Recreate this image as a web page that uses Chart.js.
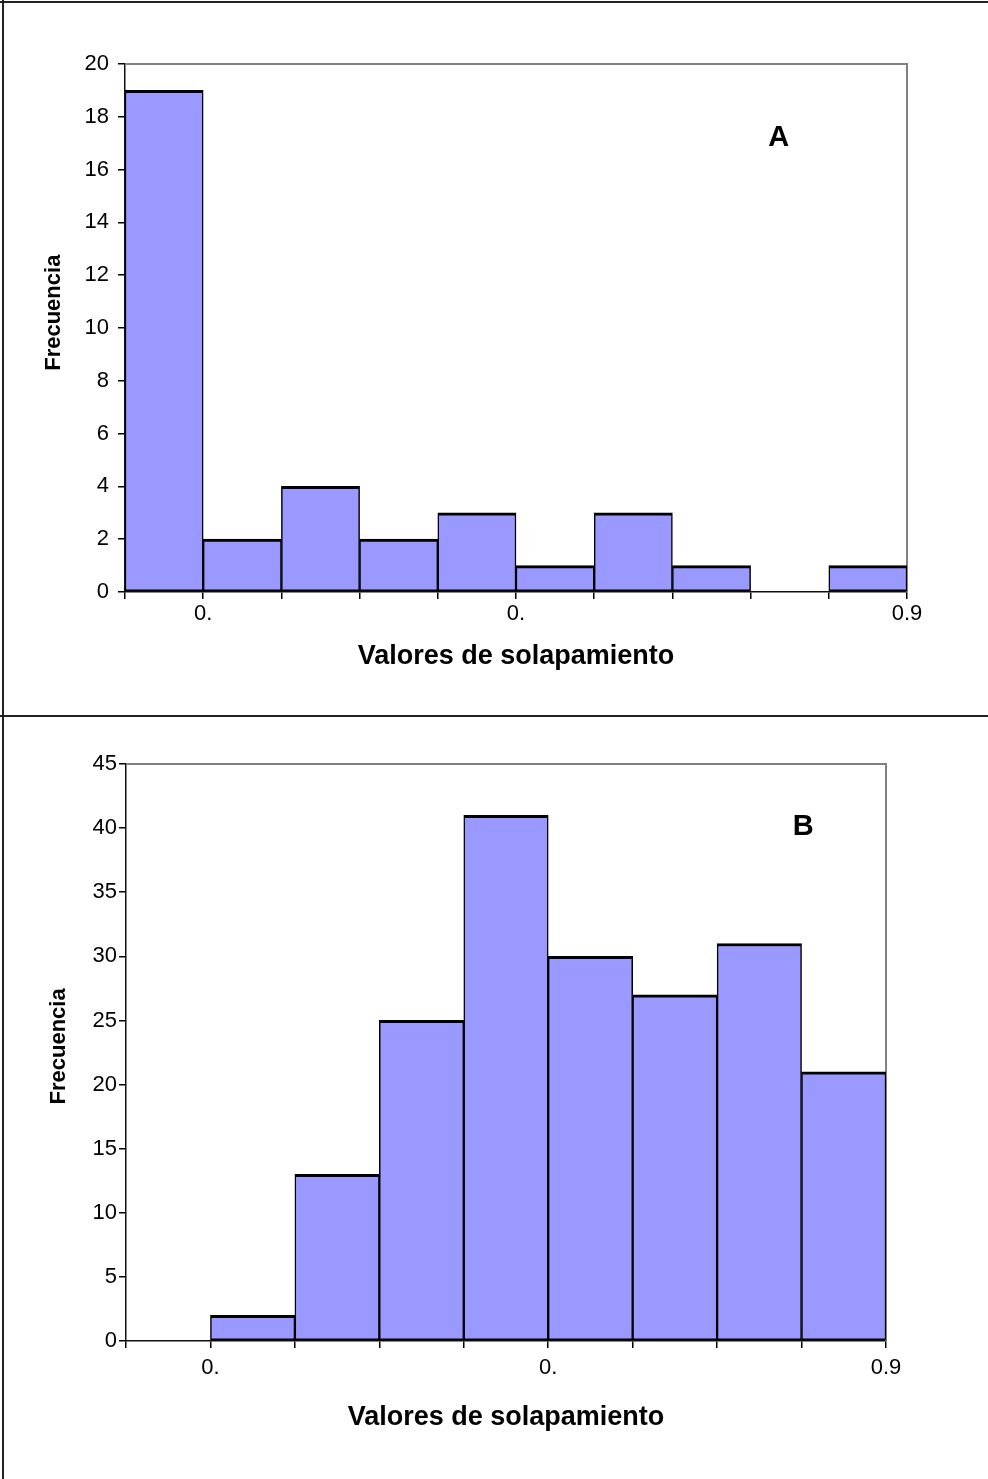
<!DOCTYPE html>
<html>
<head>
<meta charset="utf-8">
<script src="https://cdn.jsdelivr.net/npm/chart.js@4.4.1/dist/chart.umd.min.js"></script>
<style>
    body { margin: 0; background: #fff; }
    #page { position: relative; width: 988px; height: 1479px; overflow: hidden; }
    canvas { position: absolute; left: 0; }
    .rule { position: absolute; background: #222; }
</style>
</head>
<body>
<div id="page">
    <canvas id="chartA" width="988" height="716" style="top:0"></canvas>
    <canvas id="chartB" width="988" height="763" style="top:716px"></canvas>
    <div class="rule" style="left:0;top:1px;width:988px;height:2px"></div>
    <div class="rule" style="left:2px;top:0;width:2px;height:1479px"></div>
    <div class="rule" style="left:0;top:715px;width:988px;height:2px"></div>
</div>
<script>
// ==================== DATA ====================

// Panel A: 10 bins
const freqA = [19, 2, 4, 2, 3, 1, 3, 1, 0, 1];
const edgeLabelsA = ['', '0.', '', '', '', '0.', '', '', '', '', '0.9'];
const yTicksA = { max: 20, step: 2 };

// Panel B: 9 bins
const freqB = [0, 2, 13, 25, 41, 30, 27, 31, 21];
const edgeLabelsB = ['', '0.', '', '', '', '0.', '', '', '', '0.9'];
const yTicksB = { max: 45, step: 5 };

const xTitle = 'Valores de solapamiento';
const yTitle = 'Frecuencia';

// ==================== STYLE ====================

const FONT = "'Liberation Sans', Arial, sans-serif";
const BAR_FILL = '#9999ff';
const PLOT_EDGE = '#808080';

Chart.defaults.font.family = FONT;
Chart.defaults.color = '#000';

// Gray top/right edge of the plot area, drawn under the bars
const plotFrame = {
    id: 'plotFrame',
    beforeDatasetsDraw(chart) {
        const { ctx, chartArea: a } = chart;
        ctx.save();
        ctx.strokeStyle = PLOT_EDGE;
        ctx.lineWidth = 2;
        ctx.beginPath();
        ctx.moveTo(a.left, a.top);
        ctx.lineTo(a.right, a.top);
        ctx.lineTo(a.right, a.bottom);
        ctx.stroke();
        ctx.restore();
    }
};

// Panel letter, positioned in data units
const panelLetter = {
    id: 'panelLetter',
    afterDatasetsDraw(chart, args, opts) {
        const { ctx, scales } = chart;
        ctx.save();
        ctx.font = 'bold 29px ' + FONT;
        ctx.fillStyle = '#000';
        ctx.textAlign = 'center';
        ctx.textBaseline = 'middle';
        ctx.fillText(opts.text, scales.x.getPixelForValue(opts.at[0]), scales.y.getPixelForValue(opts.at[1]));
        ctx.restore();
    }
};

// ==================== CHARTS ====================

function makeHistogram(canvasId, cfg) {
    const tickLine = { color: '#000', lineWidth: 1.5, drawOnChartArea: false, drawTicks: true, tickLength: 7 };
    const axisLine = { display: true, color: '#111', width: 1.5 };

    // the y title sits a bit above the middle of the axis in the original
    const yTitleText = '\u00a0'.repeat(cfg.yTitleLift) + yTitle;

    return new Chart(document.getElementById(canvasId), {
        type: 'bar',
        data: {
            datasets: [{
                data: cfg.freq.map((v, i) => ({ x: i + 0.5, y: v })),
                backgroundColor: BAR_FILL,
                borderColor: '#000',
                borderWidth: { top: 3, left: 1.5, right: 1.5, bottom: 2 },
                borderSkipped: false,
                barPercentage: 1,
                categoryPercentage: 1
            }]
        },
        options: {
            responsive: false,
            animation: false,
            devicePixelRatio: 1,
            layout: { padding: cfg.padding },
            plugins: {
                legend: { display: false },
                tooltip: { enabled: false },
                panelLetter: { text: cfg.letter, at: cfg.letterAt }
            },
            scales: {
                x: {
                    type: 'linear',
                    min: 0,
                    max: cfg.freq.length,
                    offset: false,
                    grid: { ...tickLine, offset: false },
                    border: axisLine,
                    ticks: {
                        stepSize: 1,
                        autoSkip: false,
                        maxRotation: 0,
                        padding: cfg.xTickPad,
                        font: { size: 22 },
                        callback: (value) => cfg.edgeLabels[value] ?? ''
                    },
                    title: {
                        display: true,
                        text: xTitle,
                        font: { size: 27, weight: 'bold' },
                        padding: { top: 0, bottom: cfg.xTitlePad }
                    },
                    afterFit: (scale) => { scale.height = cfg.xHeight; }
                },
                y: {
                    min: 0,
                    max: cfg.yTicks.max,
                    grid: tickLine,
                    border: axisLine,
                    ticks: {
                        stepSize: cfg.yTicks.step,
                        padding: cfg.yTickPad,
                        font: { size: 22 }
                    },
                    title: {
                        display: true,
                        text: yTitleText,
                        font: { size: 22, weight: 'bold' },
                        padding: { top: cfg.yTitlePad, bottom: 0 }
                    },
                    afterFit: (scale) => { scale.width = cfg.yWidth; }
                }
            }
        },
        plugins: [plotFrame, panelLetter]
    });
}

document.addEventListener('DOMContentLoaded', () => {
    makeHistogram('chartA', {
        freq: freqA,
        edgeLabels: edgeLabelsA,
        yTicks: yTicksA,
        letter: 'A',
        letterAt: [8.36, 17.2],
        padding: { top: 64, right: 81, bottom: 0, left: 0 },
        xHeight: 124,
        yWidth: 125,
        xTickPad: 1.3,
        yTickPad: 9,
        xTitlePad: 43,
        yTitlePad: 41,
        yTitleLift: 5
    });

    makeHistogram('chartB', {
        freq: freqB,
        edgeLabels: edgeLabelsB,
        yTicks: yTicksB,
        letter: 'B',
        letterAt: [8.02, 40.05],
        padding: { top: 48, right: 102, bottom: 0, left: 0 },
        xHeight: 138,
        yWidth: 126,
        xTickPad: 6.8,
        yTickPad: 2,
        xTitlePad: 45,
        yTitlePad: 45.5,
        yTitleLift: 2
    });
});
</script>
</body>
</html>
